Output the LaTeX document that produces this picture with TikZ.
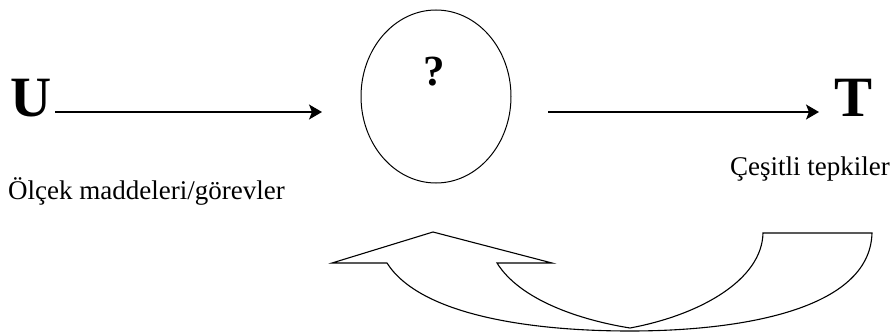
\documentclass[tikz,border=0pt]{standalone}
\usepackage{fontspec}
\setmainfont{Liberation Serif}
\usetikzlibrary{arrows.meta,positioning,shapes.geometric}
\tikzset{
  outarr/.style={-{Stealth[length=13pt, width=15pt, inset=3pt]}, line width=1.3pt},
  blob/.style={draw, ellipse, line width=1pt, minimum width=150pt, minimum height=173pt, inner sep=0pt},
  big/.style={font=\fontsize{57}{62}\selectfont\bfseries, inner sep=0pt},
  qlab/.style={font=\fontsize{43}{47}\selectfont\bfseries, inner sep=0pt},
  lab/.style={font=\fontsize{27}{30}\selectfont, inner sep=0pt},
}

\begin{document}
\begin{tikzpicture}[x=1pt,y=-1pt,
  fback/.style={draw, line width=1.1pt, line join=miter}]
\useasboundingbox (0,0) rectangle (895,332);

% ---- main row --------------------------------------------------------------
\node[big, anchor=base] (U) at (31.5,116) {U};
\node[blob] (proc) at (436,96.5) {};
\node[qlab, anchor=base] (qm) at (434,85) {?};
\node[big, anchor=base] (T) at (854,116) {T};
% ---- labels ----------------------------------------------------------------
\node[lab, anchor=base west] (inlab) at (8,199) {Ölçek maddeleri/görevler};
\node[lab, anchor=base east] (outlab) at (890,175) {Çeşitli tepkiler};
% ---- flow ------------------------------------------------------------------
\coordinate (a1s) at (55,112);
\coordinate (a1e) at (322,112);
\coordinate (a2s) at (548,112);
\coordinate (a2e) at (819,112);
\draw[outarr] (a1s) -- (a1e);
\draw[outarr] (a2s) -- (a2e);
% ---- feedback (curved block arrow) -----------------------------------------
\draw[fback] (332,263) -- (387,263)
  .. controls (420,315) and (530,331) .. (630,331)
  .. controls (740,331) and (870,310) .. (872,233)
  -- (763,233)
  .. controls (762,280) and (700,315) .. (630,328)
  .. controls (580,320) and (520,300) .. (497,263)
  -- (552,263) -- (433,232) -- cycle;

\end{tikzpicture}
\end{document}
